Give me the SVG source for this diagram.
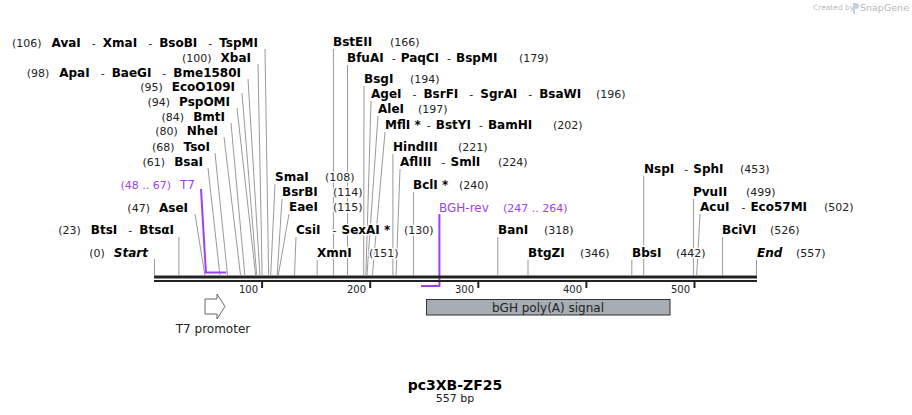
<svg xmlns="http://www.w3.org/2000/svg" width="912" height="415" viewBox="0 0 912 415">
<style>
text{font-family:"DejaVu Sans",Verdana,sans-serif}
.h{paint-order:stroke;stroke:#fff;stroke-width:3px;stroke-linejoin:round}
.n{font-size:12px;font-weight:bold;fill:#000}
.p{font-size:11px;fill:#222}
.s{font-size:11px;fill:#222}
.i{font-style:italic}
.pr{fill:#9f3fef}
.ln{stroke:#999;stroke-width:1;fill:none}
.pl{stroke:#9f3fef;stroke-width:2;fill:none}
.tk{font-size:10px;fill:#222;text-anchor:end}
</style>
<rect width="912" height="415" fill="#fff"/>
<g id="watermark">
<text x="813" y="10" font-size="7.5" fill="#bcbcbc">Created by</text>
<path d="M853 3 h3 a3 3 0 0 1 0 6 h-1 v5 h-2 z" fill="#c4d0dc"/>
<text x="860" y="11" font-size="9.5" fill="#b4b8bc">SnapGene</text>
</g>
<g id="connectors">
<line class="ln" x1="265" y1="49" x2="268.6" y2="275"/>
<line class="ln" x1="258" y1="64" x2="262.1" y2="275"/>
<line class="ln" x1="248" y1="79" x2="259.9" y2="275"/>
<line class="ln" x1="242" y1="93" x2="256.7" y2="275"/>
<line class="ln" x1="237" y1="108" x2="255.6" y2="275"/>
<line class="ln" x1="231" y1="123" x2="244.8" y2="275"/>
<line class="ln" x1="224" y1="137" x2="240.5" y2="275"/>
<line class="ln" x1="215" y1="153" x2="227.5" y2="275"/>
<line class="ln" x1="208" y1="168" x2="219.9" y2="275"/>
<line class="ln" x1="195" y1="214" x2="204.8" y2="275"/>
<line class="ln" x1="178.9" y1="237" x2="178.9" y2="275"/>
<line class="ln" x1="154.5" y1="259" x2="154.5" y2="275"/>
<line class="ln" x1="333.4" y1="49" x2="333.4" y2="275"/>
<line class="ln" x1="347.5" y1="65" x2="347.5" y2="275"/>
<line class="ln" x1="364" y1="86" x2="363.7" y2="275"/>
<line class="ln" x1="371" y1="101" x2="365.9" y2="275"/>
<line class="ln" x1="378" y1="116" x2="367" y2="275"/>
<line class="ln" x1="385" y1="132" x2="372.4" y2="275"/>
<line class="ln" x1="392.9" y1="154" x2="392.9" y2="275"/>
<line class="ln" x1="400" y1="169" x2="396.1" y2="275"/>
<line class="ln" x1="413.4" y1="192" x2="413.4" y2="275"/>
<line class="ln" x1="275" y1="184" x2="270.7" y2="275"/>
<line class="ln" x1="282" y1="199" x2="277.2" y2="275"/>
<line class="ln" x1="289" y1="214" x2="278.3" y2="275"/>
<line class="ln" x1="296" y1="237" x2="294.5" y2="275"/>
<line class="ln" x1="317.2" y1="260" x2="317.2" y2="275"/>
<line class="ln" x1="497.8" y1="237" x2="497.8" y2="275"/>
<line class="ln" x1="528" y1="260" x2="528" y2="275"/>
<line class="ln" x1="643.7" y1="176" x2="643.7" y2="275"/>
<line class="ln" x1="693.4" y1="199" x2="693.4" y2="275"/>
<line class="ln" x1="700" y1="214" x2="696.7" y2="275"/>
<line class="ln" x1="722.6" y1="237" x2="722.6" y2="275"/>
<line class="ln" x1="631.8" y1="260" x2="631.8" y2="275"/>
<line class="ln" x1="756.5" y1="260" x2="756.5" y2="275"/>
<polyline class="pl" points="201,189 205.9,272.5 226.4,272.5"/>
<polyline class="pl" points="439.4,214 439.4,286 421,286"/>
</g>
<g id="backbone">
<rect x="154" y="275.5" width="603" height="3" fill="#222"/>
<rect x="154" y="280" width="603" height="2" fill="#222"/>
<rect x="261.1" y="282" width="2" height="6" fill="#222"/>
<rect x="369.2" y="282" width="2" height="6" fill="#222"/>
<rect x="477.3" y="282" width="2" height="6" fill="#222"/>
<rect x="585.4" y="282" width="2" height="6" fill="#222"/>
<rect x="693.5" y="282" width="2" height="6" fill="#222"/>
<text class="tk" x="258" y="293">100</text>
<text class="tk" x="366" y="293">200</text>
<text class="tk" x="474" y="293">300</text>
<text class="tk" x="582" y="293">400</text>
<text class="tk" x="690" y="293">500</text>
</g>
<g id="lbl-AvaI"><text class="h" x="258" y="47" text-anchor="end"><tspan class="p">(106)</tspan><tspan class="n" dx="10">AvaI</tspan><tspan class="s" dx="11">-</tspan><tspan class="n" dx="7">XmaI</tspan><tspan class="s" dx="11">-</tspan><tspan class="n" dx="7">BsoBI</tspan><tspan class="s" dx="11">-</tspan><tspan class="n" dx="7">TspMI</tspan></text></g>
<g id="lbl-XbaI"><text class="h" x="251" y="62" text-anchor="end"><tspan class="p">(100)</tspan><tspan class="n" dx="9">XbaI</tspan></text></g>
<g id="lbl-ApaI"><text class="h" x="241" y="77" text-anchor="end"><tspan class="p">(98)</tspan><tspan class="n" dx="10">ApaI</tspan><tspan class="s" dx="11">-</tspan><tspan class="n" dx="7">BaeGI</tspan><tspan class="s" dx="11">-</tspan><tspan class="n" dx="7">Bme1580I</tspan></text></g>
<g id="lbl-EcoO109I"><text class="h" x="235" y="91" text-anchor="end"><tspan class="p">(95)</tspan><tspan class="n" dx="9">EcoO109I</tspan></text></g>
<g id="lbl-PspOMI"><text class="h" x="230" y="106" text-anchor="end"><tspan class="p">(94)</tspan><tspan class="n" dx="9">PspOMI</tspan></text></g>
<g id="lbl-BmtI"><text class="h" x="225" y="121" text-anchor="end"><tspan class="p">(84)</tspan><tspan class="n" dx="9">BmtI</tspan></text></g>
<g id="lbl-NheI"><text class="h" x="218" y="135" text-anchor="end"><tspan class="p">(80)</tspan><tspan class="n" dx="9">NheI</tspan></text></g>
<g id="lbl-TsoI"><text class="h" x="210" y="151" text-anchor="end"><tspan class="p">(68)</tspan><tspan class="n" dx="9">TsoI</tspan></text></g>
<g id="lbl-BsaI"><text class="h" x="203" y="166" text-anchor="end"><tspan class="p">(61)</tspan><tspan class="n" dx="9">BsaI</tspan></text></g>
<g id="lbl-T7"><text class="h" x="195" y="189" text-anchor="end"><tspan class="p pr">(48 .. 67)</tspan><tspan class="pr" font-size="12" dx="9">T7</tspan></text></g>
<g id="lbl-AseI"><text class="h" x="188" y="212" text-anchor="end"><tspan class="p">(47)</tspan><tspan class="n" dx="9">AseI</tspan></text></g>
<g id="lbl-BtsI"><text class="h" x="174" y="234" text-anchor="end"><tspan class="p">(23)</tspan><tspan class="n" dx="10">BtsI</tspan><tspan class="s" dx="11">-</tspan><tspan class="n" dx="7">BtsαI</tspan></text></g>
<g id="lbl-Start"><text class="h" x="148" y="257" text-anchor="end"><tspan class="p">(0)</tspan><tspan class="n i" dx="9">Start</tspan></text></g>
<g id="lbl-BstEII"><text class="h" x="333" y="46"><tspan class="n">BstEII</tspan><tspan class="p" x="390">(166)</tspan></text></g>
<g id="lbl-BfuAI"><text class="h" x="347" y="62"><tspan class="n">BfuAI</tspan><tspan class="s" dx="8">-</tspan><tspan class="n" dx="5">PaqCI</tspan><tspan class="s" dx="8">-</tspan><tspan class="n" dx="5">BspMI</tspan><tspan class="p" x="519">(179)</tspan></text></g>
<g id="lbl-BsgI"><text class="h" x="364" y="83"><tspan class="n">BsgI</tspan><tspan class="p" x="410">(194)</tspan></text></g>
<g id="lbl-AgeI"><text class="h" x="371" y="98"><tspan class="n">AgeI</tspan><tspan class="s" dx="11">-</tspan><tspan class="n" dx="7">BsrFI</tspan><tspan class="s" dx="11">-</tspan><tspan class="n" dx="7">SgrAI</tspan><tspan class="s" dx="11">-</tspan><tspan class="n" dx="7">BsaWI</tspan><tspan class="p" x="596">(196)</tspan></text></g>
<g id="lbl-AleI"><text class="h" x="378" y="113"><tspan class="n">AleI</tspan><tspan class="p" x="418">(197)</tspan></text></g>
<g id="lbl-MflI"><text class="h" x="385" y="129"><tspan class="n">MflI *</tspan><tspan class="s" dx="6">-</tspan><tspan class="n" dx="5">BstYI</tspan><tspan class="s" dx="8">-</tspan><tspan class="n" dx="5">BamHI</tspan><tspan class="p" x="553">(202)</tspan></text></g>
<g id="lbl-HindIII"><text class="h" x="393" y="151"><tspan class="n">HindIII</tspan><tspan class="p" x="458">(221)</tspan></text></g>
<g id="lbl-AflIII"><text class="h" x="400" y="166"><tspan class="n">AflIII</tspan><tspan class="s" dx="10">-</tspan><tspan class="n" dx="5">SmlI</tspan><tspan class="p" x="498">(224)</tspan></text></g>
<g id="lbl-BclI"><text class="h" x="413" y="189"><tspan class="n">BclI *</tspan><tspan class="p" x="459">(240)</tspan></text></g>
<g id="lbl-BGH-rev"><text class="h" x="439" y="212"><tspan class="pr" font-size="12">BGH-rev</tspan><tspan class="p pr" font-size="12" x="503">(247 .. 264)</tspan></text></g>
<g id="lbl-SmaI"><text class="h" x="275" y="181"><tspan class="n">SmaI</tspan><tspan class="p" x="325">(108)</tspan></text></g>
<g id="lbl-BsrBI"><text class="h" x="282" y="196"><tspan class="n">BsrBI</tspan><tspan class="p" x="333">(114)</tspan></text></g>
<g id="lbl-EaeI"><text class="h" x="289" y="211"><tspan class="n">EaeI</tspan><tspan class="p" x="333">(115)</tspan></text></g>
<g id="lbl-CsiI"><text class="h" x="296" y="234"><tspan class="n">CsiI</tspan><tspan class="s" dx="12">-</tspan><tspan class="n" dx="5">SexAI *</tspan><tspan class="p" x="404">(130)</tspan></text></g>
<g id="lbl-XmnI"><text class="h" x="317" y="257"><tspan class="n">XmnI</tspan><tspan class="p" x="369">(151)</tspan></text></g>
<g id="lbl-BanI"><text class="h" x="498" y="234"><tspan class="n">BanI</tspan><tspan class="p" x="544">(318)</tspan></text></g>
<g id="lbl-BtgZI"><text class="h" x="528" y="257"><tspan class="n">BtgZI</tspan><tspan class="p" x="580">(346)</tspan></text></g>
<g id="lbl-NspI"><text class="h" x="644" y="173"><tspan class="n">NspI</tspan><tspan class="s" dx="10">-</tspan><tspan class="n" dx="5">SphI</tspan><tspan class="p" x="740">(453)</tspan></text></g>
<g id="lbl-PvuII"><text class="h" x="693" y="196"><tspan class="n">PvuII</tspan><tspan class="p" x="746">(499)</tspan></text></g>
<g id="lbl-AcuI"><text class="h" x="700" y="211"><tspan class="n">AcuI</tspan><tspan class="s" dx="12">-</tspan><tspan class="n" dx="5">Eco57MI</tspan><tspan class="p" x="824">(502)</tspan></text></g>
<g id="lbl-BciVI"><text class="h" x="722" y="234"><tspan class="n">BciVI</tspan><tspan class="p" x="770">(526)</tspan></text></g>
<g id="lbl-BbsI"><text class="h" x="632" y="257"><tspan class="n">BbsI</tspan><tspan class="p" x="676">(442)</tspan></text></g>
<g id="lbl-End"><text class="h" x="757" y="257"><tspan class="n i">End</tspan><tspan class="p" x="796">(557)</tspan></text></g>
<g id="feat-T7promoter">
<polygon points="205,299 217,299 217,294 225,306.5 217,319 217,314 205,314" fill="#fff" stroke="#666" stroke-width="1"/>
<text x="213" y="333" text-anchor="middle" font-size="12" fill="#222">T7 promoter</text>
</g>
<g id="feat-bGH">
<rect x="426.5" y="299.5" width="243.5" height="15.5" fill="#a6adb4" stroke="#333" stroke-width="1"/>
<text x="548" y="312" text-anchor="middle" font-size="12" fill="#222">bGH poly(A) signal</text>
</g>
<g id="title">
<text x="455" y="390" text-anchor="middle" font-size="14" font-weight="bold" fill="#000">pc3XB-ZF25</text>
<text x="455" y="402" text-anchor="middle" font-size="11" fill="#222">557 bp</text>
</g>
</svg>
